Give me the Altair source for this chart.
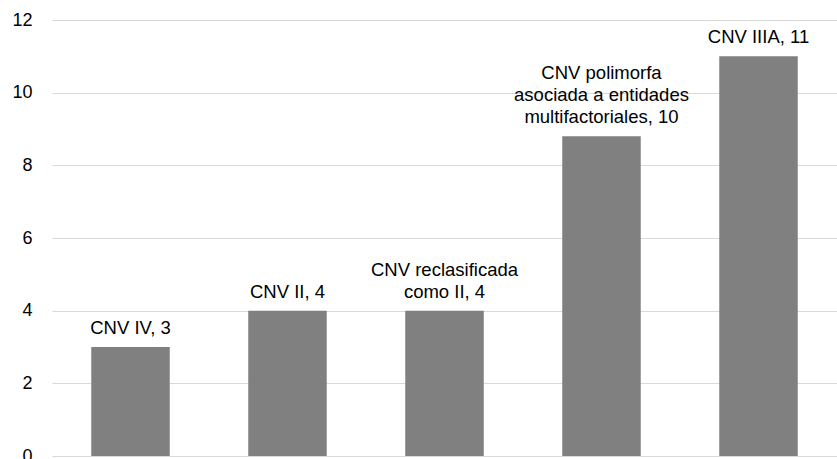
import altair as alt
import pandas as pd

categories = ["CNV IV", "CNV II", "CNV reclasificada como II",
              "CNV polimorfa asociada a entidades multifactoriales", "CNV IIIA"]
values = [3, 4, 4, 8.8, 11]
labels = [
    ["CNV IV, 3"],
    ["CNV II, 4"],
    ["CNV reclasificada", "como II, 4"],
    ["CNV polimorfa", "asociada a entidades", "multifactoriales, 10"],
    ["CNV IIIA, 11"],
]

df = pd.DataFrame({"cat": categories, "val": values})

# one row per label line, k = line index counted from the bottom
rows = []
for c, v, lab in zip(categories, values, labels):
    n = len(lab)
    for i, line in enumerate(lab):
        rows.append({"cat": c, "val": v, "line": line, "k": n - 1 - i})
tdf = pd.DataFrame(rows)

x = alt.X("cat:N", sort=categories,
          scale=alt.Scale(paddingInner=0.5, paddingOuter=0.25), axis=None)
y = alt.Y("val:Q", scale=alt.Scale(domain=[0, 12], nice=False),
          axis=alt.Axis(values=[0, 2, 4, 6, 8, 10, 12], title=None, domain=False,
                        ticks=False, grid=True, gridColor="#d9d9d9", gridWidth=1.2,
                        labelFontSize=18, labelFont="Liberation Sans",
                        labelColor="#000000", labelPadding=20))

bars = alt.Chart(df).mark_bar(color="#808080").encode(x=x, y=y)

layers = [bars]
for k in range(3):
    layers.append(
        alt.Chart(tdf).transform_filter(alt.datum.k == k).mark_text(
            baseline="alphabetic", align="center", dy=-13 - 22 * k,
            fontSize=18.5, font="Liberation Sans", color="#000000").encode(
            x=x, y=alt.Y("val:Q"), text="line:N")
    )

chart = alt.layer(*layers).properties(
    width=785, height=436,
    autosize=alt.AutoSizeParams(type="none"),
    padding={"left": 52, "top": 20, "right": 0, "bottom": 3},
    background="#ffffff",
).configure_view(stroke=None)

chart.save("out.html", embed_options={"renderer": "svg", "actions": False})
